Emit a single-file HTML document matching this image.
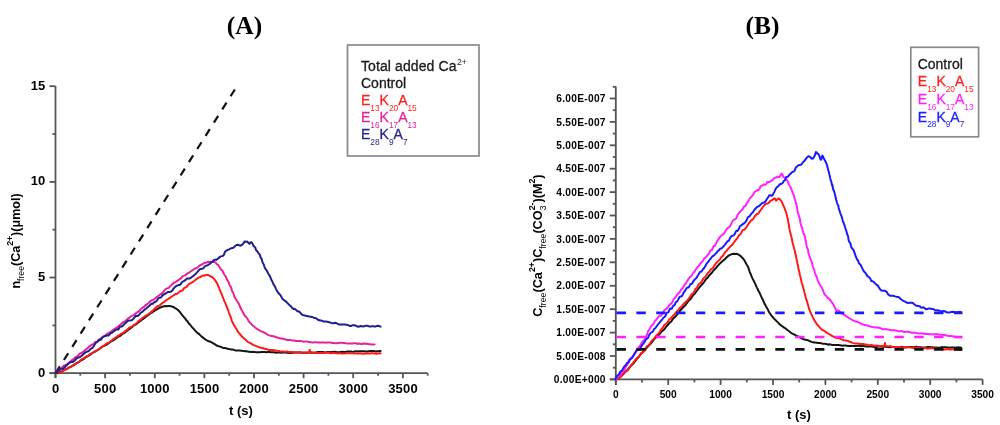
<!DOCTYPE html>
<html><head><meta charset="utf-8"><style>
html,body{margin:0;padding:0;background:#fff;width:1000px;height:425px;overflow:hidden}
svg{display:block;filter:blur(0.4px)}

</style></head><body>
<svg width="1000" height="425" viewBox="0 0 1000 425">
<rect width="1000" height="425" fill="#fff"/>
<text x="244.5" y="33.5" text-anchor="middle" font-family="Liberation Serif, serif" font-weight="bold" font-size="25.5">(A)</text>
<text x="762.5" y="33.5" text-anchor="middle" font-family="Liberation Serif, serif" font-weight="bold" font-size="25.5">(B)</text>
<g stroke="#555" stroke-width="1.8" fill="none">
<path d="M55.5,86 L55.5,378 M49.5,373.2 L427.5,373.2"/>
<path d="M49.5,373.2 L55.5,373.2"/>
<path d="M49.5,277.5 L55.5,277.5"/>
<path d="M49.5,181.9 L55.5,181.9"/>
<path d="M49.5,86.2 L55.5,86.2"/>
<path d="M52.5,325.4 L55.5,325.4"/>
<path d="M52.5,229.7 L55.5,229.7"/>
<path d="M52.5,134.0 L55.5,134.0"/>
<path d="M55.5,373.2 L55.5,378.2"/>
<path d="M80.3,373.2 L80.3,375.7"/>
<path d="M105.1,373.2 L105.1,378.2"/>
<path d="M129.9,373.2 L129.9,375.7"/>
<path d="M154.8,373.2 L154.8,378.2"/>
<path d="M179.6,373.2 L179.6,375.7"/>
<path d="M204.4,373.2 L204.4,378.2"/>
<path d="M229.2,373.2 L229.2,375.7"/>
<path d="M254.0,373.2 L254.0,378.2"/>
<path d="M278.8,373.2 L278.8,375.7"/>
<path d="M303.6,373.2 L303.6,378.2"/>
<path d="M328.4,373.2 L328.4,375.7"/>
<path d="M353.2,373.2 L353.2,378.2"/>
<path d="M378.1,373.2 L378.1,375.7"/>
<path d="M402.9,373.2 L402.9,378.2"/>
<path d="M427.7,373.2 L427.7,375.7"/>
</g>
<text x="45.5" y="376.7" text-anchor="end" font-family="Liberation Sans, sans-serif" font-weight="bold" font-size="13" letter-spacing="0.2">0</text>
<text x="45.5" y="281.0" text-anchor="end" font-family="Liberation Sans, sans-serif" font-weight="bold" font-size="13" letter-spacing="0.2">5</text>
<text x="45.5" y="185.4" text-anchor="end" font-family="Liberation Sans, sans-serif" font-weight="bold" font-size="13" letter-spacing="0.2">10</text>
<text x="45.5" y="89.7" text-anchor="end" font-family="Liberation Sans, sans-serif" font-weight="bold" font-size="13" letter-spacing="0.2">15</text>
<text x="55.6" y="392.6" text-anchor="middle" font-family="Liberation Sans, sans-serif" font-weight="bold" font-size="13" letter-spacing="0.2">0</text>
<text x="105.2" y="392.6" text-anchor="middle" font-family="Liberation Sans, sans-serif" font-weight="bold" font-size="13" letter-spacing="0.2">500</text>
<text x="154.8" y="392.6" text-anchor="middle" font-family="Liberation Sans, sans-serif" font-weight="bold" font-size="13" letter-spacing="0.2">1000</text>
<text x="204.5" y="392.6" text-anchor="middle" font-family="Liberation Sans, sans-serif" font-weight="bold" font-size="13" letter-spacing="0.2">1500</text>
<text x="254.1" y="392.6" text-anchor="middle" font-family="Liberation Sans, sans-serif" font-weight="bold" font-size="13" letter-spacing="0.2">2000</text>
<text x="303.7" y="392.6" text-anchor="middle" font-family="Liberation Sans, sans-serif" font-weight="bold" font-size="13" letter-spacing="0.2">2500</text>
<text x="353.4" y="392.6" text-anchor="middle" font-family="Liberation Sans, sans-serif" font-weight="bold" font-size="13" letter-spacing="0.2">3000</text>
<text x="403.0" y="392.6" text-anchor="middle" font-family="Liberation Sans, sans-serif" font-weight="bold" font-size="13" letter-spacing="0.2">3500</text>
<text x="241" y="414.7" text-anchor="middle" font-family="Liberation Sans, sans-serif" font-weight="bold" font-size="13">t (s)</text>
<text transform="translate(19.5,288.6) rotate(-90) scale(0.965,1.04)" font-family="Liberation Sans, sans-serif" font-weight="bold" font-size="13">n<tspan font-size="9" font-weight="normal" dy="4.2">free</tspan><tspan dy="-4.2">(Ca</tspan><tspan font-size="9" dy="-6.5">2+</tspan><tspan dy="6.5">)(μmol)</tspan></text>
<path d="M55.6,373.2 L235.2,88.9" stroke="#111" stroke-width="2.2" stroke-dasharray="8,7.6" fill="none"/>
<path d="M58.0,373.2 L58.6,372.8 L59.4,372.4 L60.3,371.8 L61.3,371.4 L62.4,371.1 L63.5,370.5 L64.8,369.8 L66.0,369.2 L67.3,368.6 L68.6,367.7 L69.9,367.1 L71.1,366.7 L72.3,366.0 L73.5,365.3 L74.6,364.6 L75.7,363.8 L76.8,363.1 L78.0,362.4 L79.1,362.1 L80.3,361.1 L81.4,360.1 L82.6,359.7 L83.7,359.1 L84.8,358.1 L85.8,357.3 L86.8,356.6 L87.8,356.1 L88.7,355.6 L89.5,355.1 L90.9,354.1 L91.8,353.5 L92.5,353.1 L93.1,352.6 L94.0,352.1 L95.2,351.5 L97.0,350.5 L97.7,349.9 L98.5,349.5 L99.4,349.0 L100.3,348.5 L101.3,347.6 L102.3,346.7 L103.4,346.2 L104.5,345.7 L105.6,345.1 L106.8,344.5 L108.0,343.7 L109.1,343.0 L110.3,342.0 L111.5,341.1 L112.7,340.6 L113.8,340.0 L114.9,339.3 L116.0,338.4 L117.1,337.6 L118.1,336.8 L119.1,336.4 L120.0,336.0 L121.2,334.9 L122.4,334.0 L123.5,333.4 L124.7,332.7 L125.8,331.8 L126.9,330.9 L127.9,330.2 L128.9,329.5 L129.9,328.7 L130.9,328.0 L131.8,327.3 L132.7,326.5 L133.6,325.8 L134.4,325.1 L135.2,324.8 L136.0,324.4 L137.4,323.2 L138.6,322.2 L139.7,321.4 L140.6,320.7 L141.5,320.1 L142.3,319.5 L143.2,319.0 L144.0,318.3 L145.1,317.4 L146.2,316.5 L147.2,315.7 L148.1,315.1 L149.1,314.4 L150.0,313.6 L151.1,312.8 L152.1,312.5 L153.1,311.8 L154.1,311.1 L155.0,310.5 L156.4,309.7 L157.7,308.9 L159.0,308.2 L160.3,307.6 L161.6,307.0 L163.0,306.5 L164.2,306.2 L165.5,306.0 L166.8,306.2 L168.0,306.1 L169.4,306.1 L170.7,306.2 L172.0,306.5 L173.3,307.0 L174.6,307.7 L176.0,308.7 L176.9,309.2 L177.9,309.9 L179.0,311.0 L180.0,312.2 L181.0,313.5 L181.8,314.6 L182.5,315.5 L183.3,316.4 L184.1,317.4 L185.0,318.3 L186.0,319.7 L186.6,320.6 L187.3,321.1 L188.0,322.1 L188.8,323.4 L189.6,324.2 L190.4,325.0 L191.2,326.0 L192.0,327.1 L192.8,328.0 L193.7,328.9 L194.5,329.8 L195.4,330.9 L196.4,332.0 L197.4,332.8 L198.4,333.6 L199.4,334.4 L200.4,335.4 L201.4,336.4 L202.3,337.1 L203.2,337.7 L204.1,338.4 L205.4,339.5 L206.5,340.2 L207.6,340.8 L208.7,341.2 L209.8,341.5 L211.0,342.1 L212.1,342.7 L213.2,343.3 L214.2,343.9 L215.4,344.7 L216.6,345.5 L217.9,346.0 L219.4,346.4 L220.4,346.7 L221.5,347.2 L222.6,347.7 L223.8,347.9 L225.0,348.0 L226.2,348.3 L227.5,348.7 L228.7,349.0 L230.0,349.2 L231.3,349.4 L232.6,349.5 L233.8,349.9 L235.0,350.3 L236.1,350.6 L237.3,350.6 L238.5,350.6 L239.7,350.6 L241.0,350.7 L242.2,350.8 L243.5,351.1 L244.9,351.3 L246.2,351.1 L247.6,351.6 L248.7,351.7 L249.8,351.8 L250.8,351.9 L251.9,351.9 L252.9,351.8 L254.0,351.9 L255.1,352.1 L256.2,352.2 L257.4,352.2 L258.7,352.2 L260.0,352.2 L261.5,352.1 L263.0,352.1 L264.7,352.1 L266.5,352.2 L267.4,352.1 L268.4,352.1 L269.4,352.1 L270.5,352.2 L271.6,352.3 L272.7,352.3 L273.9,352.3 L275.1,352.5 L276.3,352.7 L277.6,352.4 L278.8,352.4 L280.1,352.6 L281.4,352.8 L282.7,352.5 L284.1,352.5 L285.4,352.6 L286.7,352.7 L288.0,352.8 L289.4,352.9 L290.7,352.9 L292.0,352.8 L293.3,352.7 L294.6,352.6 L295.9,352.5 L297.1,352.5 L298.4,352.4 L299.6,352.3 L300.8,352.6 L301.9,352.9 L303.0,352.8 L304.1,352.8 L305.5,352.8 L306.9,352.8 L308.2,352.5 L309.6,352.6 L310.9,352.7 L312.1,352.8 L313.4,352.8 L314.6,352.8 L315.8,352.5 L317.0,352.2 L318.2,352.1 L319.4,352.1 L320.6,352.0 L321.7,352.0 L322.9,352.1 L324.1,352.2 L325.2,352.4 L326.4,352.2 L327.5,352.0 L328.7,352.1 L329.9,352.2 L331.1,352.1 L332.3,352.0 L333.5,351.8 L334.8,351.8 L336.0,352.0 L337.2,352.2 L338.5,352.2 L339.7,352.1 L341.0,351.9 L342.3,351.7 L343.5,352.0 L344.8,351.9 L346.0,351.8 L347.3,351.6 L348.5,351.5 L349.7,351.4 L350.9,351.4 L352.1,351.7 L353.3,351.9 L354.5,351.5 L355.6,351.3 L356.7,351.3 L357.9,351.4 L358.9,351.3 L360.0,351.3 L361.4,351.2 L362.9,351.3 L364.3,351.3 L365.8,351.5 L367.2,351.6 L368.6,351.3 L370.0,351.1 L371.3,351.0 L372.6,351.0 L373.9,351.0 L375.1,351.4 L376.2,351.5 L377.2,351.3 L378.2,351.2 L379.1,351.1 L379.8,351.0 L380.5,351.1" fill="none" stroke="#151515" stroke-width="2.0" stroke-linejoin="round" stroke-linecap="round"/>
<path d="M59.0,373.2 L59.6,373.0 L60.4,372.7 L61.3,372.4 L62.3,371.7 L63.3,370.2 L64.5,369.9 L65.7,369.7 L67.0,369.0 L68.2,368.1 L69.5,367.4 L70.8,366.6 L72.0,365.8 L73.2,365.0 L74.2,364.4 L75.3,363.8 L76.4,363.3 L77.6,362.8 L78.7,362.2 L79.9,361.1 L81.0,359.9 L82.2,358.9 L83.3,358.5 L84.4,358.0 L85.5,357.2 L86.5,356.5 L87.5,356.0 L88.4,355.5 L89.2,354.9 L90.6,353.8 L91.5,353.3 L92.2,352.9 L92.9,352.5 L93.7,352.0 L95.0,351.3 L96.8,350.3 L97.5,350.0 L98.3,349.6 L99.1,349.0 L99.9,348.4 L100.9,347.7 L101.8,347.0 L102.8,346.4 L103.8,345.7 L104.9,344.9 L106.0,343.9 L107.1,343.2 L108.2,343.1 L109.3,342.3 L110.4,341.4 L111.6,340.5 L112.7,339.6 L113.8,338.8 L114.9,338.1 L116.0,337.3 L117.0,336.6 L118.0,335.9 L119.0,335.2 L120.0,334.5 L121.1,333.7 L122.1,333.3 L123.2,332.9 L124.2,332.0 L125.2,331.1 L126.3,330.3 L127.3,329.7 L128.3,328.8 L129.2,327.7 L130.2,327.2 L131.2,326.9 L132.2,326.3 L133.2,325.7 L134.1,324.9 L135.1,324.2 L136.1,323.5 L137.1,322.7 L138.0,321.6 L139.0,320.8 L140.0,320.1 L141.0,319.4 L142.0,318.4 L142.9,317.6 L143.9,317.0 L144.8,316.3 L145.8,315.7 L146.7,315.1 L147.7,314.5 L148.6,313.9 L149.6,313.2 L150.5,312.5 L151.5,311.6 L152.4,310.8 L153.4,309.9 L154.4,308.9 L155.4,307.9 L156.4,307.1 L157.4,306.3 L158.4,306.0 L159.5,305.7 L160.5,304.7 L161.5,303.7 L162.5,302.9 L163.6,302.3 L164.7,301.6 L165.8,300.5 L166.9,299.7 L168.0,299.1 L169.1,298.4 L170.3,297.6 L171.4,296.8 L172.5,296.0 L173.6,295.3 L174.7,294.6 L175.8,293.9 L176.8,294.0 L177.8,293.3 L178.8,292.3 L179.8,291.4 L180.7,291.0 L181.6,290.8 L182.4,290.6 L183.7,288.6 L185.0,287.7 L186.2,287.2 L187.3,286.0 L188.4,284.7 L189.4,283.8 L190.4,283.2 L191.3,282.8 L192.1,282.4 L192.9,281.8 L193.7,281.3 L194.4,280.8 L195.0,280.3 L196.8,278.9 L197.7,278.2 L198.5,277.6 L199.7,277.2 L200.9,276.8 L202.1,275.9 L203.3,275.4 L204.5,275.7 L205.6,275.1 L207.0,274.9 L208.4,275.1 L209.8,276.0 L211.2,276.6 L212.3,277.2 L213.3,278.1 L214.4,279.3 L215.5,280.8 L216.2,281.9 L216.9,283.0 L217.6,284.4 L218.2,285.9 L218.9,287.5 L219.5,289.2 L219.9,290.2 L220.2,291.0 L220.7,292.0 L221.5,293.8 L221.8,294.6 L222.2,295.6 L222.6,296.7 L223.1,297.9 L223.6,299.2 L224.1,300.4 L224.6,301.6 L225.1,302.7 L225.6,303.8 L226.2,305.3 L226.7,306.7 L227.1,307.8 L227.6,308.7 L228.0,309.8 L228.5,311.3 L229.0,312.8 L229.5,314.1 L230.0,315.3 L230.4,316.5 L230.9,317.7 L231.3,318.9 L231.7,320.3 L232.2,321.5 L232.6,322.5 L233.3,323.7 L233.9,325.0 L234.6,326.1 L235.2,327.1 L235.8,328.0 L236.4,329.0 L237.0,330.0 L237.8,331.4 L238.4,332.2 L239.0,333.1 L240.1,334.2 L240.8,335.1 L241.6,336.1 L242.4,337.1 L243.3,337.8 L244.3,338.5 L245.4,339.5 L246.5,340.6 L247.6,341.7 L248.6,342.4 L249.6,342.7 L250.6,343.2 L251.7,344.0 L252.8,344.6 L253.9,345.1 L255.1,345.6 L256.3,346.1 L257.6,346.6 L258.9,347.2 L260.0,347.6 L261.1,347.8 L262.3,348.0 L263.4,348.3 L264.6,348.7 L265.9,349.0 L267.1,349.3 L268.4,349.7 L269.7,350.0 L271.1,349.9 L272.5,350.0 L274.0,350.2 L275.1,350.4 L276.2,350.6 L277.4,350.9 L278.6,351.1 L279.9,351.3 L281.2,351.4 L282.5,351.4 L283.8,351.6 L285.1,351.7 L286.4,351.6 L287.7,351.6 L289.0,351.9 L290.2,352.0 L291.4,352.0 L292.6,352.0 L293.7,352.2 L294.7,352.4 L296.2,352.5 L297.8,352.6 L299.2,352.5 L300.7,352.3 L302.0,352.5 L303.3,352.6 L304.5,352.6 L305.7,352.6 L306.7,352.8 L307.5,352.8 L308.3,352.8 L309.8,351.1 L309.8,349.8 L309.3,350.9 L311.3,352.4 L312.0,352.4 L312.8,352.5 L313.8,352.6 L314.8,352.9 L315.8,353.1 L317.0,353.1 L318.2,353.0 L319.5,352.9 L320.8,352.9 L322.2,353.0 L323.6,353.0 L325.0,352.9 L326.5,352.8 L327.9,352.7 L329.4,352.9 L330.9,353.2 L332.3,353.0 L333.4,352.8 L334.5,352.9 L335.6,353.2 L336.8,353.3 L338.0,353.4 L339.2,353.3 L340.5,353.3 L341.7,353.4 L343.0,353.5 L344.3,353.4 L345.5,353.2 L346.8,353.2 L348.1,353.2 L349.4,353.3 L350.6,353.3 L351.9,353.2 L353.1,353.1 L354.3,353.3 L355.5,353.4 L356.7,353.4 L357.8,353.5 L358.9,353.5 L360.0,353.5 L361.4,353.6 L362.9,353.7 L364.3,353.7 L365.8,353.6 L367.2,353.6 L368.6,353.6 L370.0,353.5 L371.3,353.3 L372.6,353.3 L373.9,353.4 L375.1,353.5 L376.2,353.7 L377.2,353.8 L378.2,353.6 L379.1,353.3 L379.8,353.2 L380.5,353.5" fill="none" stroke="#ff1a1a" stroke-width="2.0" stroke-linejoin="round" stroke-linecap="round"/>
<path d="M55.5,373.0 L56.0,372.5 L56.6,371.9 L57.2,371.3 L58.0,370.7 L58.7,370.2 L59.6,369.6 L60.4,369.1 L61.4,368.4 L62.3,367.3 L63.3,366.1 L64.4,365.5 L65.4,365.1 L66.5,364.9 L67.6,364.2 L68.7,363.1 L69.8,362.0 L71.0,361.0 L72.1,360.1 L73.2,359.2 L74.3,358.2 L75.4,357.4 L76.5,356.7 L77.6,355.9 L78.6,355.1 L79.6,353.7 L80.6,353.3 L81.6,353.0 L82.4,352.3 L83.3,351.6 L84.1,350.9 L84.8,350.3 L86.2,349.2 L87.5,348.2 L88.6,347.1 L89.5,346.3 L90.4,345.7 L91.2,345.1 L91.9,344.6 L92.7,344.4 L93.4,344.2 L94.3,343.1 L95.2,341.9 L96.2,341.8 L97.4,341.4 L98.8,340.0 L99.6,339.4 L100.4,338.7 L101.3,337.9 L102.2,337.2 L103.2,336.5 L104.2,335.9 L105.2,335.3 L106.2,334.6 L107.3,333.9 L108.4,333.2 L109.5,332.5 L110.7,331.8 L111.8,330.9 L112.9,330.0 L114.1,329.3 L115.2,328.6 L116.3,327.9 L117.4,327.1 L118.5,326.2 L119.5,325.3 L120.5,324.7 L121.5,323.8 L122.4,322.5 L123.3,322.2 L124.2,321.8 L125.0,321.5 L125.7,320.8 L126.4,320.0 L128.3,318.2 L129.5,317.6 L130.3,316.9 L130.9,316.5 L131.4,316.0 L132.2,315.8 L133.3,315.4 L135.0,313.9 L135.7,313.4 L136.5,312.9 L137.3,312.3 L138.2,311.7 L139.2,310.9 L140.2,309.9 L141.2,308.9 L142.3,307.8 L143.4,307.1 L144.6,306.3 L145.7,305.0 L146.9,304.5 L148.0,303.6 L149.2,302.3 L150.3,301.2 L151.4,300.6 L152.5,299.9 L153.6,299.6 L154.6,299.2 L155.6,298.1 L156.5,297.1 L157.4,296.6 L158.1,296.0 L158.9,295.5 L159.5,295.0 L161.8,293.4 L163.0,292.3 L163.6,291.5 L164.1,290.8 L164.8,289.9 L165.8,288.9 L166.7,288.4 L167.6,288.3 L168.7,287.9 L170.0,286.3 L170.8,285.7 L171.6,284.9 L172.5,284.0 L173.4,283.0 L174.4,282.5 L175.4,282.2 L176.5,281.4 L177.6,280.6 L178.8,279.8 L180.0,278.9 L180.9,278.3 L182.0,277.0 L183.1,275.9 L184.2,275.6 L185.4,275.2 L186.6,274.1 L187.9,273.1 L189.1,272.7 L190.2,271.8 L191.4,270.9 L192.4,270.3 L193.4,269.6 L194.2,269.0 L195.0,268.5 L196.8,268.0 L197.8,267.2 L198.4,266.6 L199.2,265.9 L200.3,265.0 L201.3,264.6 L202.4,264.5 L203.5,263.4 L204.9,262.7 L206.4,262.7 L207.7,262.0 L209.5,261.8 L211.2,261.9 L212.7,262.1 L214.1,262.1 L215.2,262.2 L216.2,263.3 L217.1,264.5 L218.0,264.7 L219.0,266.2 L219.7,267.4 L220.4,268.6 L221.1,269.7 L221.8,270.1 L222.5,270.9 L223.2,272.3 L223.9,273.8 L224.4,274.8 L225.0,275.7 L225.6,276.2 L226.1,277.4 L226.8,279.4 L227.6,280.4 L228.2,281.6 L228.7,282.5 L229.6,285.3 L229.9,285.7 L230.3,286.1 L230.7,286.7 L231.2,287.9 L231.7,289.6 L232.2,291.3 L232.8,292.4 L233.3,293.4 L233.9,294.7 L234.4,296.5 L235.0,297.6 L235.5,298.5 L236.1,299.5 L236.7,300.6 L237.3,301.5 L237.9,302.3 L238.5,303.2 L239.1,304.5 L239.7,305.9 L240.3,307.3 L240.9,308.5 L241.4,309.6 L242.0,310.6 L242.7,311.9 L243.4,313.2 L244.0,314.3 L244.6,315.5 L245.2,316.2 L245.9,316.7 L246.5,317.4 L247.2,318.6 L248.0,319.9 L248.8,321.4 L249.7,322.4 L250.6,323.2 L251.5,324.1 L252.4,325.2 L253.4,326.0 L254.3,326.8 L255.3,327.5 L256.2,328.3 L257.4,329.2 L258.7,329.9 L260.0,330.6 L261.2,331.3 L262.4,331.8 L263.5,332.2 L264.5,332.6 L266.0,333.6 L267.0,334.3 L268.5,335.1 L269.5,335.4 L270.6,335.7 L271.8,336.1 L273.1,336.3 L274.4,336.5 L275.8,337.0 L277.0,337.5 L278.2,337.8 L279.4,338.2 L280.6,338.6 L281.8,338.5 L283.0,338.7 L284.2,339.0 L285.4,339.4 L286.6,339.9 L287.7,340.0 L288.8,339.9 L290.0,339.9 L291.2,340.2 L292.5,340.4 L293.9,340.6 L295.0,340.8 L296.2,341.0 L297.4,341.0 L298.7,341.0 L300.0,341.0 L301.3,341.1 L302.7,341.5 L304.0,341.7 L305.3,341.4 L306.6,341.6 L307.8,341.8 L309.0,342.0 L310.2,342.2 L311.3,342.3 L312.5,342.4 L313.6,342.4 L314.9,342.3 L316.2,342.3 L317.7,342.4 L319.3,342.5 L320.3,342.5 L321.3,342.5 L322.3,342.5 L323.3,342.6 L324.4,342.6 L325.5,342.7 L326.6,342.6 L327.7,342.5 L328.9,342.5 L330.1,342.6 L331.3,342.7 L332.6,342.9 L334.0,343.1 L335.4,343.2 L336.9,343.2 L338.4,343.0 L340.0,342.8 L341.0,342.8 L342.1,342.8 L343.3,342.9 L344.5,343.1 L345.8,343.3 L347.1,343.4 L348.5,343.5 L349.9,343.6 L351.3,343.6 L352.7,343.4 L354.2,343.3 L355.7,343.3 L357.1,343.8 L358.6,343.6 L360.0,343.8 L361.5,344.0 L362.9,343.8 L364.2,343.6 L365.6,343.7 L366.8,343.8 L368.1,344.0 L369.2,344.2 L370.3,344.3 L371.4,344.5 L372.3,344.6 L373.2,344.6 L373.9,344.6 L374.6,344.4" fill="none" stroke="#e3239a" stroke-width="2.0" stroke-linejoin="round" stroke-linecap="round"/>
<path d="M55.5,373.0 L56.0,372.4 L56.7,371.7 L57.4,371.2 L58.1,370.9 L59.0,370.2 L59.9,369.2 L60.8,368.8 L61.8,368.8 L62.8,368.9 L63.9,368.0 L65.0,366.9 L66.2,365.8 L67.4,364.3 L68.6,363.4 L69.8,362.6 L71.0,362.1 L72.2,362.0 L73.5,361.5 L74.7,360.5 L75.9,359.1 L77.1,358.0 L78.3,357.6 L79.5,357.2 L80.6,356.6 L81.7,355.7 L82.8,354.6 L83.8,353.7 L84.8,352.9 L85.7,352.2 L86.6,351.8 L87.4,351.5 L88.1,351.3 L88.8,350.9 L90.6,348.8 L91.9,348.2 L92.8,347.5 L93.3,346.7 L93.8,346.1 L94.1,345.5 L94.6,344.7 L95.2,343.7 L96.1,342.7 L97.4,341.8 L98.1,341.0 L99.0,340.0 L99.9,339.7 L100.8,339.9 L101.8,338.5 L102.9,337.1 L104.0,336.6 L105.1,336.1 L106.2,335.7 L107.4,335.4 L108.6,335.5 L109.8,334.1 L110.9,333.1 L112.1,332.7 L113.2,331.8 L114.3,330.9 L115.4,330.1 L116.4,329.5 L117.4,329.3 L118.4,329.5 L119.2,328.1 L120.0,326.7 L121.6,326.6 L123.0,325.7 L124.2,324.1 L125.3,323.2 L126.3,322.3 L127.2,321.5 L128.1,320.7 L128.9,320.5 L129.6,320.5 L130.4,320.5 L131.5,320.2 L131.8,320.1 L132.6,319.7 L135.0,316.9 L135.6,315.8 L136.3,315.8 L137.1,315.9 L137.9,315.9 L138.8,315.1 L139.8,313.9 L140.8,312.7 L141.8,312.1 L142.9,311.4 L143.9,310.3 L145.1,309.2 L146.2,308.5 L147.3,307.6 L148.5,306.6 L149.6,305.7 L150.7,304.4 L151.9,303.6 L152.9,303.7 L154.0,302.6 L155.0,301.7 L156.0,301.7 L157.0,300.6 L157.9,298.9 L158.7,298.1 L159.5,297.7 L161.0,297.5 L162.3,295.6 L163.6,294.6 L164.7,294.0 L165.8,293.4 L166.8,292.7 L167.7,291.9 L168.6,292.0 L169.5,292.1 L170.3,291.9 L171.2,291.5 L172.0,290.9 L173.2,289.1 L174.2,287.8 L175.0,287.0 L175.8,286.4 L176.7,285.9 L177.6,285.4 L178.7,285.0 L180.0,284.9 L180.8,284.0 L181.7,282.4 L182.7,281.7 L183.8,281.2 L184.9,280.4 L186.0,279.6 L187.1,278.6 L188.3,278.4 L189.4,278.5 L190.5,278.0 L191.5,277.3 L192.5,276.5 L193.5,275.7 L194.3,275.1 L195.0,274.5 L196.6,272.9 L197.7,271.5 L198.5,270.7 L199.1,270.0 L199.9,269.2 L201.0,269.0 L202.1,268.8 L203.2,268.3 L204.2,267.1 L205.4,265.9 L206.5,265.6 L207.7,265.2 L208.7,264.5 L209.8,263.8 L210.8,262.9 L211.9,262.0 L213.0,261.0 L214.1,260.0 L215.2,259.6 L216.2,259.9 L217.4,259.0 L218.6,258.2 L219.7,257.0 L220.9,256.4 L222.2,256.1 L223.2,255.6 L224.1,254.4 L225.0,251.7 L225.9,250.9 L226.8,250.5 L227.8,249.8 L229.2,249.4 L230.6,248.5 L231.8,248.1 L233.0,248.1 L234.2,246.9 L235.4,245.8 L236.5,245.0 L237.7,244.7 L239.1,245.2 L240.5,245.7 L241.8,245.0 L242.9,244.0 L243.8,242.8 L244.5,241.5 L245.1,241.5 L245.7,241.8 L246.3,241.7 L247.1,241.5 L248.3,242.7 L249.5,243.9 L250.1,243.0 L250.6,242.2 L251.2,242.3 L251.8,242.5 L252.7,244.1 L253.7,246.2 L254.5,246.7 L255.3,247.6 L256.1,250.3 L257.1,251.1 L258.0,252.3 L258.7,253.6 L259.6,254.3 L260.0,255.0 L260.4,257.0 L260.9,258.0 L261.4,258.3 L261.9,259.7 L262.4,261.9 L262.9,263.0 L263.3,263.7 L263.8,264.5 L264.3,266.2 L264.8,267.7 L265.4,268.9 L266.0,269.6 L266.5,270.2 L267.1,271.3 L267.7,272.5 L268.3,273.6 L268.9,274.6 L269.5,275.5 L270.2,276.8 L270.8,278.3 L271.5,280.0 L272.1,281.1 L272.7,282.4 L273.3,283.9 L273.9,285.0 L274.6,285.8 L275.2,287.2 L275.8,288.6 L276.4,289.8 L277.0,290.8 L277.5,291.6 L278.0,292.3 L279.3,294.1 L280.3,295.0 L281.2,296.4 L282.1,298.3 L283.0,299.3 L284.0,300.2 L285.0,300.8 L286.1,301.6 L287.2,302.7 L288.2,303.9 L289.1,304.8 L290.0,305.6 L290.9,306.3 L291.8,307.5 L293.2,308.9 L294.6,308.8 L296.0,309.9 L297.0,310.9 L298.1,311.5 L299.1,311.4 L300.2,312.7 L301.4,314.2 L302.6,315.0 L303.9,315.3 L305.2,315.5 L306.6,316.1 L308.0,316.3 L309.4,316.5 L310.8,316.7 L312.0,316.9 L313.2,317.4 L314.4,318.1 L315.5,318.0 L316.5,318.6 L318.0,319.7 L320.0,320.5 L320.9,320.6 L322.0,320.8 L323.2,321.4 L324.5,321.6 L325.8,321.5 L327.2,321.8 L328.6,322.1 L330.0,322.5 L331.2,322.9 L332.5,323.3 L333.7,323.2 L335.0,322.8 L336.3,323.0 L337.6,323.8 L339.0,324.4 L340.4,324.5 L341.8,324.6 L343.0,324.5 L344.1,324.5 L345.2,324.4 L346.3,324.7 L347.5,324.9 L348.7,325.4 L349.9,326.0 L351.2,325.9 L352.7,325.2 L354.2,325.3 L355.9,325.7 L356.9,326.2 L358.0,326.8 L359.3,326.6 L360.5,326.0 L361.9,326.3 L363.3,326.6 L364.7,325.9 L366.2,325.7 L367.6,325.8 L369.1,326.4 L370.5,326.6 L371.9,326.3 L373.3,326.2 L374.6,326.6 L375.8,326.4 L377.0,326.0 L378.0,325.7 L379.0,326.0 L379.8,326.5 L380.5,326.6" fill="none" stroke="#1f1f8f" stroke-width="2.0" stroke-linejoin="round" stroke-linecap="round"/>
<rect x="347.5" y="45" width="131.5" height="111" fill="none" stroke="#8a8a8a" stroke-width="1.7"/>
<text x="361" y="71" font-family="Liberation Sans, sans-serif" font-size="14" fill="#1a1a1a" stroke="#1a1a1a" stroke-width="0.3"><tspan letter-spacing="0.1">Total added Ca</tspan><tspan font-size="8.6" stroke-width="0" dy="-6.3" dx="0.3">2+</tspan></text>
<text x="361" y="88" font-family="Liberation Sans, sans-serif" font-size="14" fill="#1a1a1a" stroke="#1a1a1a" stroke-width="0.3">Control</text>
<text x="361" y="105" font-family="Liberation Sans, sans-serif" font-size="14" fill="#ff2020" stroke="#ff2020" stroke-width="0.3">E<tspan font-size="8.3" stroke-width="0" dy="5.5">13</tspan><tspan dy="-5.5">K</tspan><tspan font-size="8.3" stroke-width="0" dy="5.5">20</tspan><tspan dy="-5.5">A</tspan><tspan font-size="8.3" stroke-width="0" dy="5.5">15</tspan></text>
<text x="361" y="122" font-family="Liberation Sans, sans-serif" font-size="14" fill="#e3239a" stroke="#e3239a" stroke-width="0.3">E<tspan font-size="8.3" stroke-width="0" dy="5.5">16</tspan><tspan dy="-5.5">K</tspan><tspan font-size="8.3" stroke-width="0" dy="5.5">17</tspan><tspan dy="-5.5">A</tspan><tspan font-size="8.3" stroke-width="0" dy="5.5">13</tspan></text>
<text x="361" y="139" font-family="Liberation Sans, sans-serif" font-size="14" fill="#25258f" stroke="#25258f" stroke-width="0.3">E<tspan font-size="8.3" stroke-width="0" dy="5.5">28</tspan><tspan dy="-5.5">K</tspan><tspan font-size="8.3" stroke-width="0" dy="5.5">9</tspan><tspan dy="-5.5">A</tspan><tspan font-size="8.3" stroke-width="0" dy="5.5">7</tspan></text>
<g stroke="#555" stroke-width="1.8" fill="none">
<path d="M615.8,86.5 L615.8,385 M609.8,379.4 L982.6,379.4"/>
<path d="M609.8,379.4 L615.8,379.4"/>
<path d="M609.8,356.0 L615.8,356.0"/>
<path d="M609.8,332.6 L615.8,332.6"/>
<path d="M609.8,309.2 L615.8,309.2"/>
<path d="M609.8,285.8 L615.8,285.8"/>
<path d="M609.8,262.3 L615.8,262.3"/>
<path d="M609.8,238.9 L615.8,238.9"/>
<path d="M609.8,215.5 L615.8,215.5"/>
<path d="M609.8,192.1 L615.8,192.1"/>
<path d="M609.8,168.7 L615.8,168.7"/>
<path d="M609.8,145.3 L615.8,145.3"/>
<path d="M609.8,121.9 L615.8,121.9"/>
<path d="M609.8,98.5 L615.8,98.5"/>
<path d="M612.8,367.7 L615.8,367.7"/>
<path d="M612.8,344.3 L615.8,344.3"/>
<path d="M612.8,320.9 L615.8,320.9"/>
<path d="M612.8,297.5 L615.8,297.5"/>
<path d="M612.8,274.1 L615.8,274.1"/>
<path d="M612.8,250.6 L615.8,250.6"/>
<path d="M612.8,227.2 L615.8,227.2"/>
<path d="M612.8,203.8 L615.8,203.8"/>
<path d="M612.8,180.4 L615.8,180.4"/>
<path d="M612.8,157.0 L615.8,157.0"/>
<path d="M612.8,133.6 L615.8,133.6"/>
<path d="M612.8,110.2 L615.8,110.2"/>
<path d="M612.8,86.8 L615.8,86.8"/>
<path d="M615.8,379.4 L615.8,384.9"/>
<path d="M642.0,379.4 L642.0,382.4"/>
<path d="M668.2,379.4 L668.2,384.9"/>
<path d="M694.4,379.4 L694.4,382.4"/>
<path d="M720.6,379.4 L720.6,384.9"/>
<path d="M746.8,379.4 L746.8,382.4"/>
<path d="M773.0,379.4 L773.0,384.9"/>
<path d="M799.2,379.4 L799.2,382.4"/>
<path d="M825.4,379.4 L825.4,384.9"/>
<path d="M851.6,379.4 L851.6,382.4"/>
<path d="M877.8,379.4 L877.8,384.9"/>
<path d="M904.0,379.4 L904.0,382.4"/>
<path d="M930.2,379.4 L930.2,384.9"/>
<path d="M956.4,379.4 L956.4,382.4"/>
<path d="M982.6,379.4 L982.6,384.9"/>
</g>
<text x="605.8" y="383.0" text-anchor="end" font-family="Liberation Sans, sans-serif" font-weight="bold" font-size="10.2" letter-spacing="0.28">0.00E+000</text>
<text x="605.8" y="359.6" text-anchor="end" font-family="Liberation Sans, sans-serif" font-weight="bold" font-size="10.2" letter-spacing="0.28">5.00E-008</text>
<text x="605.8" y="336.2" text-anchor="end" font-family="Liberation Sans, sans-serif" font-weight="bold" font-size="10.2" letter-spacing="0.28">1.00E-007</text>
<text x="605.8" y="312.8" text-anchor="end" font-family="Liberation Sans, sans-serif" font-weight="bold" font-size="10.2" letter-spacing="0.28">1.50E-007</text>
<text x="605.8" y="289.4" text-anchor="end" font-family="Liberation Sans, sans-serif" font-weight="bold" font-size="10.2" letter-spacing="0.28">2.00E-007</text>
<text x="605.8" y="265.9" text-anchor="end" font-family="Liberation Sans, sans-serif" font-weight="bold" font-size="10.2" letter-spacing="0.28">2.50E-007</text>
<text x="605.8" y="242.5" text-anchor="end" font-family="Liberation Sans, sans-serif" font-weight="bold" font-size="10.2" letter-spacing="0.28">3.00E-007</text>
<text x="605.8" y="219.1" text-anchor="end" font-family="Liberation Sans, sans-serif" font-weight="bold" font-size="10.2" letter-spacing="0.28">3.50E-007</text>
<text x="605.8" y="195.7" text-anchor="end" font-family="Liberation Sans, sans-serif" font-weight="bold" font-size="10.2" letter-spacing="0.28">4.00E-007</text>
<text x="605.8" y="172.3" text-anchor="end" font-family="Liberation Sans, sans-serif" font-weight="bold" font-size="10.2" letter-spacing="0.28">4.50E-007</text>
<text x="605.8" y="148.9" text-anchor="end" font-family="Liberation Sans, sans-serif" font-weight="bold" font-size="10.2" letter-spacing="0.28">5.00E-007</text>
<text x="605.8" y="125.5" text-anchor="end" font-family="Liberation Sans, sans-serif" font-weight="bold" font-size="10.2" letter-spacing="0.28">5.50E-007</text>
<text x="605.8" y="102.1" text-anchor="end" font-family="Liberation Sans, sans-serif" font-weight="bold" font-size="10.2" letter-spacing="0.28">6.00E-007</text>
<text x="615.8" y="397.7" text-anchor="middle" font-family="Liberation Sans, sans-serif" font-weight="bold" font-size="10.2">0</text>
<text x="668.2" y="397.7" text-anchor="middle" font-family="Liberation Sans, sans-serif" font-weight="bold" font-size="10.2">500</text>
<text x="720.6" y="397.7" text-anchor="middle" font-family="Liberation Sans, sans-serif" font-weight="bold" font-size="10.2">1000</text>
<text x="773.0" y="397.7" text-anchor="middle" font-family="Liberation Sans, sans-serif" font-weight="bold" font-size="10.2">1500</text>
<text x="825.4" y="397.7" text-anchor="middle" font-family="Liberation Sans, sans-serif" font-weight="bold" font-size="10.2">2000</text>
<text x="877.8" y="397.7" text-anchor="middle" font-family="Liberation Sans, sans-serif" font-weight="bold" font-size="10.2">2500</text>
<text x="930.2" y="397.7" text-anchor="middle" font-family="Liberation Sans, sans-serif" font-weight="bold" font-size="10.2">3000</text>
<text x="982.6" y="397.7" text-anchor="middle" font-family="Liberation Sans, sans-serif" font-weight="bold" font-size="10.2">3500</text>
<text x="799" y="419" text-anchor="middle" font-family="Liberation Sans, sans-serif" font-weight="bold" font-size="13">t (s)</text>
<text transform="translate(541.8,316.8) rotate(-90) scale(0.975,1.02)" font-family="Liberation Sans, sans-serif" font-weight="bold" font-size="13">C<tspan font-size="9" font-weight="normal" dy="4.2">free</tspan><tspan dy="-4.2">(Ca</tspan><tspan font-size="9" dy="-6.5">2+</tspan><tspan dy="6.5">)C</tspan><tspan font-size="9" font-weight="normal" dy="4.2">free</tspan><tspan dy="-4.2">(CO</tspan><tspan font-size="9" font-weight="normal" dy="4.2">3</tspan><tspan font-size="9" dy="-10.7" dx="-5">2-</tspan><tspan dy="6.5">)(M</tspan><tspan font-size="9" dy="-6.5">2</tspan><tspan dy="6.5">)</tspan></text>
<path d="M617.8,379.0 L618.3,378.5 L619.0,377.9 L619.8,377.2 L620.7,376.6 L621.6,375.9 L622.6,374.8 L623.7,373.7 L624.7,372.6 L625.7,371.6 L626.6,370.8 L627.5,370.1 L628.4,369.0 L629.1,367.9 L629.9,367.1 L630.5,366.2 L631.3,365.5 L632.0,364.9 L632.8,364.0 L633.7,363.0 L634.8,361.7 L636.0,360.1 L636.6,359.2 L637.3,358.3 L638.0,357.7 L638.7,356.8 L639.5,355.8 L640.2,354.8 L641.0,353.8 L641.9,353.0 L642.7,352.2 L643.6,351.3 L644.4,350.3 L645.3,349.3 L646.2,348.3 L647.1,347.3 L647.9,346.3 L648.8,345.5 L649.6,344.7 L650.5,343.9 L651.3,342.9 L652.1,342.0 L652.9,340.9 L653.6,339.9 L654.5,338.8 L655.4,338.0 L656.2,337.4 L657.0,336.6 L657.8,335.8 L658.6,335.0 L659.3,334.3 L660.1,333.6 L660.8,332.4 L661.6,331.3 L662.4,330.8 L663.2,330.3 L664.0,329.5 L664.9,328.5 L665.8,327.2 L666.8,325.9 L667.8,325.1 L668.5,324.3 L669.2,323.2 L669.9,322.5 L670.7,321.9 L671.4,321.3 L672.2,320.0 L673.0,318.8 L673.9,317.9 L674.7,317.3 L675.5,316.4 L676.4,315.4 L677.2,314.3 L678.1,313.1 L679.0,312.1 L679.8,311.0 L680.7,310.0 L681.6,309.0 L682.4,308.1 L683.3,307.1 L684.1,306.4 L684.9,305.7 L685.7,304.7 L686.5,303.6 L687.3,302.5 L688.1,301.5 L688.8,300.6 L689.5,300.0 L690.4,299.1 L691.3,298.0 L692.1,296.7 L693.0,295.5 L693.8,294.5 L694.6,293.7 L695.4,292.9 L696.2,291.6 L697.0,290.5 L697.8,289.5 L698.5,288.5 L699.3,287.6 L700.0,286.7 L700.7,285.8 L701.4,285.0 L702.1,284.3 L702.8,283.7 L703.5,282.7 L704.2,281.8 L704.8,280.9 L705.5,279.9 L706.5,278.7 L707.4,277.9 L708.3,276.8 L709.2,275.4 L710.1,274.5 L710.9,273.7 L711.8,272.8 L712.6,271.7 L713.3,270.7 L714.1,269.9 L714.8,269.3 L715.6,268.6 L716.3,267.6 L717.0,266.7 L718.1,265.4 L719.1,264.3 L720.0,263.4 L721.0,262.5 L721.8,261.7 L722.7,260.9 L723.5,260.2 L724.3,259.6 L725.0,259.1 L726.2,257.8 L727.3,256.7 L728.2,255.9 L729.1,255.3 L730.0,254.9 L731.3,254.3 L732.5,253.9 L733.7,253.7 L735.3,253.9 L737.0,253.8 L738.0,254.4 L739.0,255.0 L740.1,255.6 L741.1,256.5 L742.0,257.5 L742.9,258.3 L743.7,259.3 L744.5,260.5 L745.1,261.7 L745.7,262.7 L746.2,263.7 L746.8,264.7 L747.5,265.8 L747.9,266.7 L748.3,267.7 L748.7,268.8 L749.2,270.2 L749.6,271.6 L750.1,272.8 L750.6,273.8 L751.1,275.1 L751.7,276.6 L752.2,277.7 L752.6,278.6 L753.1,279.6 L753.6,280.5 L754.1,281.5 L754.6,282.4 L755.1,283.7 L755.7,285.0 L756.3,286.3 L756.9,287.6 L757.5,288.8 L758.2,290.2 L758.7,291.2 L759.2,292.1 L759.7,293.1 L760.2,294.1 L760.7,295.4 L761.3,296.7 L761.8,297.9 L762.4,299.0 L763.0,300.1 L763.6,301.5 L764.1,302.8 L764.7,303.9 L765.3,305.0 L765.9,306.1 L766.4,307.1 L767.0,308.0 L767.5,308.8 L768.0,309.9 L768.8,311.6 L769.6,313.0 L770.4,314.0 L771.1,315.1 L771.9,316.1 L772.6,317.0 L773.4,317.9 L774.1,318.7 L774.8,319.4 L775.6,320.1 L776.3,320.9 L777.3,321.9 L778.3,322.9 L779.3,324.0 L780.3,324.8 L781.3,325.6 L782.3,326.3 L783.2,326.9 L784.1,327.6 L785.1,328.2 L786.1,328.9 L786.9,329.6 L787.8,330.3 L788.8,331.0 L790.0,332.0 L790.9,332.8 L791.9,333.4 L792.9,333.9 L794.0,334.4 L795.1,335.0 L796.3,335.6 L797.5,336.1 L798.7,336.7 L800.0,337.5 L801.1,338.1 L802.2,338.7 L803.3,339.2 L804.5,339.5 L805.7,339.8 L806.9,340.1 L808.1,340.3 L809.3,340.9 L810.5,341.5 L811.7,341.9 L812.9,342.2 L814.2,342.5 L815.5,342.6 L816.8,342.7 L818.1,343.0 L819.4,343.1 L820.7,343.1 L822.0,343.5 L823.3,343.8 L824.6,343.8 L825.9,343.9 L827.2,344.2 L828.5,344.7 L829.8,344.3 L831.1,344.6 L832.5,345.0 L833.8,345.1 L835.1,345.1 L836.3,345.1 L837.6,345.0 L838.8,345.0 L840.1,345.2 L841.3,345.5 L842.6,345.8 L843.7,345.5 L844.9,345.4 L846.1,345.7 L847.4,345.8 L848.6,345.9 L850.0,345.9 L851.1,346.0 L852.2,346.1 L853.3,346.1 L854.4,346.1 L855.5,346.1 L856.7,346.0 L857.9,345.8 L859.2,345.7 L860.7,346.2 L862.3,346.1 L864.0,346.1 L864.9,346.3 L865.8,346.4 L866.7,346.4 L867.5,346.4 L868.4,346.4 L869.2,346.4 L870.1,346.4 L871.0,346.4 L871.9,346.4 L872.9,346.7 L874.0,346.9 L875.1,346.9 L876.3,347.0 L877.6,346.7 L878.9,346.4 L880.4,346.6 L882.1,346.8 L883.8,346.8 L885.7,346.8 L887.8,347.1 L890.0,347.2 L890.8,347.2 L891.7,347.1 L892.7,347.1 L893.6,347.1 L894.7,347.1 L895.7,347.1 L896.8,347.1 L897.9,347.1 L899.1,347.0 L900.3,346.9 L901.5,346.8 L902.7,347.0 L904.0,347.2 L905.3,347.4 L906.6,347.3 L907.9,347.1 L909.3,347.1 L910.6,347.0 L912.0,347.1 L913.4,347.4 L914.8,347.1 L916.3,346.8 L917.7,347.0 L919.1,347.2 L920.6,347.2 L922.0,347.4 L923.5,347.5 L924.9,347.4 L926.4,347.2 L927.8,347.1 L929.3,347.0 L930.7,347.2 L932.2,347.3 L933.6,347.5 L935.0,347.6 L936.4,347.6 L937.8,347.7 L939.1,347.7 L940.5,347.4 L941.8,347.1 L943.1,347.2 L944.4,347.2 L945.7,347.3 L946.9,347.5 L948.1,347.6 L949.3,347.7 L950.4,347.6 L951.5,347.4 L952.6,347.4 L953.6,347.5 L954.6,347.6 L955.6,347.7 L956.5,347.5 L957.4,347.4 L958.2,347.3 L959.0,347.4 L959.7,347.5 L960.4,347.7 L961.0,347.5" fill="none" stroke="#151515" stroke-width="2.0" stroke-linejoin="round" stroke-linecap="round"/>
<path d="M617.8,379.0 L618.3,378.5 L619.0,377.9 L619.8,377.2 L620.7,376.6 L621.6,375.6 L622.6,373.9 L623.7,372.9 L624.7,372.2 L625.7,371.6 L626.6,371.1 L627.5,370.3 L628.4,369.3 L629.1,368.3 L629.9,367.1 L630.6,365.8 L631.3,365.0 L632.1,364.1 L632.9,363.1 L633.8,361.9 L634.8,360.5 L636.0,359.1 L636.6,358.4 L637.3,357.9 L638.0,357.3 L638.7,357.2 L639.5,356.1 L640.3,354.6 L641.2,353.0 L642.0,352.7 L642.9,352.2 L643.7,351.5 L644.6,350.6 L645.5,348.5 L646.4,346.9 L647.2,345.9 L648.1,345.6 L648.9,344.9 L649.8,343.9 L650.6,342.5 L651.3,341.2 L652.1,340.4 L652.8,339.7 L653.7,338.9 L654.5,338.1 L655.2,336.9 L655.9,336.0 L656.6,335.4 L657.3,334.8 L657.9,334.1 L658.5,333.5 L659.2,332.9 L659.9,331.7 L660.6,330.2 L661.3,329.2 L662.1,328.6 L663.0,327.4 L664.0,325.4 L665.0,324.6 L665.6,324.0 L666.3,323.6 L667.0,323.2 L667.8,322.1 L668.5,320.7 L669.3,319.3 L670.1,318.8 L671.0,318.2 L671.8,317.2 L672.7,316.1 L673.5,315.3 L674.4,314.4 L675.3,313.4 L676.2,312.1 L677.1,311.1 L678.0,310.2 L678.9,309.2 L679.7,308.1 L680.6,307.3 L681.5,306.7 L682.3,305.6 L683.2,304.4 L684.0,303.5 L684.8,302.8 L685.6,302.1 L686.3,301.4 L687.0,300.8 L687.7,300.0 L688.6,298.8 L689.5,297.7 L690.3,296.3 L691.1,295.1 L691.9,294.2 L692.6,293.5 L693.4,292.8 L694.1,292.1 L694.7,290.6 L695.4,288.8 L696.1,288.6 L696.8,288.3 L697.4,286.5 L698.1,285.3 L698.8,284.1 L699.5,283.4 L700.2,283.1 L700.9,282.7 L701.7,281.5 L702.5,279.9 L703.2,278.9 L704.0,277.8 L704.8,277.2 L705.5,276.7 L706.3,275.6 L707.1,274.0 L707.9,272.9 L708.7,272.2 L709.6,271.3 L710.4,270.1 L711.2,269.0 L712.0,268.6 L712.9,268.1 L713.7,266.7 L714.5,265.3 L715.3,264.2 L716.1,263.2 L716.9,262.3 L717.7,261.5 L718.5,260.8 L719.2,260.1 L720.0,259.4 L720.8,257.8 L721.7,256.7 L722.5,256.1 L723.3,255.2 L724.2,253.7 L725.0,252.2 L725.9,251.4 L726.7,250.7 L727.5,249.7 L728.3,248.7 L729.1,247.8 L729.9,246.9 L730.7,246.1 L731.5,245.5 L732.2,244.8 L732.9,243.9 L733.6,242.9 L734.3,242.0 L734.9,241.1 L735.5,240.3 L736.6,239.0 L737.5,238.0 L738.3,236.6 L739.1,235.3 L739.8,234.7 L740.4,234.2 L741.1,233.2 L741.8,231.7 L742.6,230.2 L743.5,229.9 L744.2,229.7 L744.9,229.1 L745.7,228.1 L746.5,227.1 L747.4,225.7 L748.3,224.3 L749.1,223.0 L750.0,221.8 L750.9,220.7 L751.7,220.2 L752.5,219.7 L753.2,218.9 L753.9,217.8 L754.5,216.8 L755.0,216.0 L756.9,214.0 L757.8,214.0 L758.7,213.1 L759.7,211.3 L760.6,210.1 L761.6,208.9 L762.5,207.4 L763.5,206.4 L764.4,205.2 L765.4,204.4 L766.3,203.7 L767.7,203.5 L769.1,202.4 L770.5,200.6 L771.9,200.2 L773.2,199.4 L774.4,198.3 L775.3,198.9 L776.2,200.7 L777.2,199.6 L778.3,198.5 L779.2,198.9 L780.2,199.6 L781.1,200.7 L781.9,202.1 L782.6,203.9 L783.2,205.5 L783.9,206.5 L784.6,208.3 L785.1,209.7 L785.6,211.1 L786.1,212.4 L786.4,213.6 L786.8,214.8 L787.1,216.2 L787.4,217.3 L787.8,218.8 L788.0,220.0 L788.2,221.4 L788.4,222.6 L788.7,223.9 L788.9,225.5 L789.1,226.8 L789.3,228.0 L789.5,229.1 L789.7,230.2 L790.0,231.6 L790.3,232.7 L790.5,233.6 L790.8,234.8 L791.2,236.3 L791.5,237.3 L791.8,238.7 L792.1,240.3 L792.4,241.8 L792.7,243.2 L793.1,244.4 L793.4,245.6 L793.7,246.9 L794.0,248.3 L794.4,249.5 L794.7,250.4 L795.0,251.8 L795.3,253.2 L795.6,254.6 L796.0,256.2 L796.2,257.2 L796.4,258.2 L796.6,259.2 L796.9,260.3 L797.1,261.5 L797.3,262.9 L797.6,264.4 L797.9,265.4 L798.2,267.0 L798.5,268.9 L798.8,270.0 L799.0,270.8 L799.3,271.9 L799.5,273.3 L799.8,274.7 L800.1,275.8 L800.4,276.8 L800.7,278.0 L801.0,279.2 L801.3,280.7 L801.6,282.2 L801.9,283.3 L802.3,284.3 L802.6,285.3 L802.9,286.4 L803.1,287.5 L803.4,288.5 L803.7,289.6 L804.1,291.1 L804.4,292.5 L804.8,293.9 L805.2,295.1 L805.5,296.5 L805.9,298.0 L806.2,299.2 L806.6,300.0 L806.9,300.8 L807.2,302.0 L807.5,303.1 L807.8,304.1 L808.3,305.8 L808.7,307.3 L809.1,308.6 L809.4,309.7 L809.8,310.7 L810.3,311.9 L810.8,313.0 L811.3,314.1 L811.8,315.1 L812.4,316.3 L813.0,317.6 L813.6,318.8 L814.2,320.0 L814.9,321.0 L815.6,322.1 L816.3,323.3 L817.0,324.4 L817.8,325.2 L818.6,326.0 L819.4,327.0 L820.2,328.0 L821.1,328.9 L822.0,329.8 L823.0,330.1 L823.9,330.7 L824.9,331.4 L825.9,332.1 L826.9,332.7 L828.0,333.4 L829.0,334.0 L830.1,334.7 L831.3,335.4 L832.4,336.1 L833.6,336.7 L834.7,337.3 L835.8,337.7 L836.9,337.9 L838.1,338.0 L839.2,338.2 L840.4,338.8 L841.6,339.3 L842.7,339.8 L844.0,340.2 L845.2,340.4 L846.5,340.6 L847.8,341.0 L849.1,341.5 L850.4,342.0 L851.7,342.5 L852.9,342.9 L854.1,343.2 L855.3,343.4 L856.6,343.4 L857.8,343.5 L859.1,343.7 L860.5,344.0 L861.8,344.1 L863.0,344.0 L864.3,344.2 L865.6,344.6 L867.0,344.8 L868.3,345.1 L869.6,345.2 L871.0,345.0 L872.3,345.2 L873.5,345.4 L874.9,345.7 L876.4,345.6 L877.9,345.8 L879.3,346.0 L880.7,345.9 L881.9,346.0 L883.0,346.0 L883.8,345.9 L885.0,344.3 L885.0,343.1 L884.9,344.5 L886.3,346.3 L887.0,346.3 L887.8,346.2 L888.7,346.2 L889.7,346.3 L890.8,346.3 L892.0,346.7 L893.3,346.9 L894.8,346.9 L896.3,347.0 L898.1,347.0 L900.0,347.0 L900.9,347.3 L901.8,347.6 L902.8,347.5 L903.9,347.4 L904.9,347.3 L906.0,347.2 L907.2,347.2 L908.4,347.2 L909.6,347.3 L910.8,347.5 L912.0,347.8 L913.3,348.1 L914.6,347.9 L915.8,347.7 L917.1,347.7 L918.5,347.8 L919.8,348.0 L921.1,348.2 L922.4,348.2 L923.7,348.1 L925.0,348.0 L926.3,348.3 L927.5,348.7 L928.8,348.5 L930.0,348.2 L931.2,348.2 L932.5,348.3 L933.9,348.4 L935.2,348.4 L936.6,348.6 L938.0,348.9 L939.5,348.9 L940.9,349.0 L942.4,349.3 L943.8,349.4 L945.3,349.5 L946.7,349.3 L948.1,349.2 L949.4,349.4 L950.8,349.5 L952.1,349.3 L953.3,349.3 L954.5,349.6 L955.7,349.8 L956.8,349.8 L957.8,349.8 L958.7,349.9 L959.6,349.9 L960.3,350.0 L961.0,349.8" fill="none" stroke="#ff1a1a" stroke-width="2.0" stroke-linejoin="round" stroke-linecap="round"/>
<path d="M616.0,379.0 L616.5,378.3 L617.1,377.5 L617.9,376.4 L618.7,375.9 L619.6,375.3 L620.6,374.2 L621.5,372.3 L622.4,371.2 L623.3,370.8 L624.0,370.5 L624.7,369.2 L625.3,367.9 L625.8,366.8 L626.3,365.9 L626.8,365.5 L627.3,364.8 L628.0,362.3 L628.8,360.5 L629.8,359.1 L630.3,358.6 L630.9,358.3 L631.5,358.0 L632.2,357.3 L632.8,356.4 L633.6,355.4 L634.3,354.5 L635.1,353.5 L635.8,352.0 L636.6,350.2 L637.4,348.7 L638.2,347.9 L639.0,347.0 L639.7,346.0 L640.5,345.0 L641.2,343.7 L641.9,342.5 L642.6,341.4 L643.2,340.9 L643.8,340.4 L644.6,339.6 L645.2,338.7 L645.8,337.8 L646.3,336.4 L646.8,335.1 L647.2,333.8 L647.7,332.5 L648.2,331.1 L648.7,330.3 L649.3,329.7 L649.9,328.4 L650.7,326.9 L651.5,325.7 L652.5,324.7 L653.1,324.3 L653.7,323.5 L654.3,322.2 L655.0,320.9 L655.7,320.2 L656.5,319.4 L657.2,318.4 L658.0,317.4 L658.8,316.3 L659.7,315.6 L660.5,315.8 L661.4,315.3 L662.2,314.1 L663.1,312.8 L664.0,310.7 L664.8,309.7 L665.7,309.5 L666.6,309.0 L667.4,307.7 L668.3,306.5 L669.1,305.4 L669.9,304.4 L670.7,303.9 L671.5,303.4 L672.2,302.2 L672.9,300.8 L673.6,299.4 L674.5,298.4 L675.3,297.5 L676.1,296.3 L676.9,295.1 L677.7,293.9 L678.4,293.4 L679.1,292.9 L679.8,291.9 L680.5,290.6 L681.2,289.4 L681.8,288.9 L682.5,288.3 L683.2,287.2 L683.9,286.0 L684.6,284.9 L685.3,283.9 L686.1,282.7 L686.9,281.5 L687.7,280.3 L688.5,279.1 L689.2,278.1 L689.9,277.2 L690.6,276.6 L691.3,276.2 L692.1,275.0 L692.9,273.4 L693.7,272.5 L694.5,271.7 L695.3,270.3 L696.1,269.0 L696.9,268.0 L697.7,267.1 L698.5,266.2 L699.3,265.2 L700.1,263.9 L700.9,262.8 L701.7,262.1 L702.5,261.4 L703.3,260.0 L704.0,258.6 L704.7,258.1 L705.4,257.6 L706.1,257.0 L706.8,256.1 L707.4,255.3 L708.0,254.7 L709.0,253.3 L709.9,251.2 L710.6,250.3 L711.3,250.2 L711.9,250.1 L712.4,248.8 L713.0,247.5 L713.6,246.1 L714.2,246.0 L714.8,245.8 L715.6,244.4 L716.4,242.8 L717.4,240.9 L718.5,239.3 L719.1,238.4 L719.7,237.5 L720.3,236.6 L721.0,235.8 L721.7,234.9 L722.4,234.7 L723.1,234.4 L723.9,233.7 L724.7,232.4 L725.5,231.0 L726.3,229.8 L727.1,228.6 L728.0,227.8 L728.8,227.5 L729.7,226.6 L730.5,225.2 L731.4,223.4 L732.2,221.7 L733.1,220.5 L733.9,219.9 L734.7,219.3 L735.6,218.8 L736.4,218.2 L737.1,216.2 L737.9,214.2 L738.7,213.3 L739.4,212.5 L740.1,211.7 L740.8,211.0 L741.4,210.3 L742.0,209.7 L743.0,208.7 L744.0,206.3 L744.9,206.5 L745.8,205.3 L746.7,203.5 L747.5,202.2 L748.3,200.9 L749.1,199.7 L749.8,198.4 L750.5,197.7 L751.2,197.1 L751.8,196.6 L752.4,195.6 L753.0,194.7 L753.5,193.8 L754.1,193.0 L754.5,192.3 L755.0,191.7 L757.0,190.3 L757.8,190.6 L758.7,190.1 L759.7,188.4 L760.6,186.1 L761.6,185.7 L762.6,185.4 L763.5,184.4 L764.6,184.6 L765.6,184.8 L766.5,183.9 L767.4,182.0 L768.4,182.2 L769.8,181.7 L771.2,181.0 L772.2,180.2 L773.2,179.3 L774.1,178.1 L775.2,177.6 L776.2,177.6 L776.9,177.1 L777.6,176.6 L778.6,176.9 L779.7,176.9 L780.6,175.1 L781.5,173.6 L782.3,174.5 L783.2,176.5 L783.9,177.3 L784.6,177.7 L785.3,178.4 L786.0,179.6 L786.8,180.0 L787.5,180.9 L788.2,182.6 L788.9,184.4 L789.6,185.7 L790.3,186.8 L791.1,188.5 L791.7,190.2 L792.2,191.5 L792.6,192.8 L793.1,193.5 L793.4,194.3 L793.8,195.5 L794.2,196.8 L794.6,198.4 L795.0,199.9 L795.3,200.8 L795.6,201.8 L795.9,202.8 L796.2,203.9 L796.5,205.1 L796.8,206.4 L797.1,208.1 L797.4,210.0 L797.7,211.7 L798.0,213.3 L798.4,214.4 L798.7,215.3 L799.0,216.2 L799.3,217.2 L799.7,218.1 L800.0,219.8 L800.3,221.7 L800.6,223.5 L801.0,224.7 L801.3,225.9 L801.6,227.0 L801.9,227.3 L802.3,227.9 L802.6,230.5 L803.0,232.0 L803.3,232.7 L803.7,233.6 L804.1,234.6 L804.5,235.6 L804.8,236.5 L805.2,238.5 L805.5,240.6 L805.9,240.8 L806.1,242.7 L806.4,244.6 L806.7,246.1 L807.0,247.6 L807.3,248.2 L807.6,248.7 L808.0,249.7 L808.3,251.7 L808.7,253.8 L809.1,255.0 L809.5,256.3 L810.0,257.7 L810.3,258.6 L810.7,259.6 L811.0,260.5 L811.4,261.3 L811.8,262.0 L812.2,263.7 L812.6,265.5 L813.0,266.8 L813.4,268.0 L813.8,269.0 L814.2,270.0 L814.7,271.8 L815.2,273.5 L815.6,274.7 L816.1,275.7 L816.6,276.6 L817.1,278.0 L817.6,279.7 L818.0,280.9 L818.5,282.1 L819.0,283.1 L819.6,284.0 L820.1,285.1 L820.7,286.3 L821.2,286.9 L821.7,287.2 L822.2,288.3 L822.6,289.5 L823.2,291.2 L823.6,292.3 L824.2,293.5 L825.1,295.0 L825.7,295.5 L826.3,296.0 L827.1,297.1 L827.9,298.2 L828.8,298.7 L829.6,299.2 L830.4,300.3 L831.2,301.4 L832.0,302.4 L832.6,303.4 L833.4,304.5 L833.8,305.5 L834.2,306.3 L834.7,307.3 L835.4,308.5 L836.6,311.1 L837.3,310.6 L838.2,310.3 L839.1,310.9 L840.2,312.2 L841.3,313.1 L842.4,313.7 L843.5,314.4 L844.7,315.1 L845.9,315.9 L847.0,316.7 L848.1,317.5 L849.1,318.2 L850.0,318.7 L851.4,319.5 L852.6,320.2 L853.7,320.7 L854.8,321.3 L855.9,321.6 L857.0,321.8 L858.1,322.1 L859.4,322.8 L860.5,323.4 L861.6,324.0 L862.8,324.4 L864.0,324.8 L865.2,325.0 L866.4,325.3 L867.6,325.6 L868.8,326.0 L870.0,326.4 L871.2,326.8 L872.5,327.1 L873.7,327.2 L874.9,327.4 L876.1,327.5 L877.3,327.6 L878.6,327.8 L879.9,328.0 L881.4,328.6 L882.9,329.2 L883.9,329.3 L885.0,329.2 L886.1,329.1 L887.2,329.4 L888.4,329.6 L889.5,329.9 L890.7,330.1 L892.0,330.2 L893.2,330.3 L894.5,330.3 L895.9,330.5 L897.2,330.8 L898.6,331.4 L900.0,331.2 L901.1,331.1 L902.2,331.2 L903.3,331.7 L904.5,331.9 L905.7,331.8 L906.9,331.7 L908.1,331.7 L909.3,331.9 L910.6,332.3 L911.8,332.8 L913.1,332.7 L914.3,332.6 L915.6,332.9 L916.8,333.2 L918.1,333.3 L919.3,333.4 L920.5,333.5 L921.7,333.5 L922.9,333.6 L924.2,333.8 L925.5,334.0 L926.8,334.1 L928.1,334.1 L929.4,334.2 L930.7,334.2 L932.0,334.3 L933.2,334.4 L934.5,334.2 L935.8,334.1 L937.0,334.3 L938.2,334.5 L939.4,334.6 L940.6,334.7 L941.8,334.8 L943.0,335.0 L944.1,335.1 L945.5,335.3 L946.9,335.6 L948.3,335.9 L949.7,336.0 L951.1,336.1 L952.5,336.2 L953.9,336.5 L955.2,336.7 L956.4,337.0 L957.5,337.2 L958.6,337.2 L959.5,337.1 L960.3,337.2 L961.0,337.3" fill="none" stroke="#ff22ff" stroke-width="2.0" stroke-linejoin="round" stroke-linecap="round"/>
<path d="M615.4,379.0 L615.8,378.1 L616.4,377.0 L617.1,375.7 L617.8,375.2 L618.6,374.6 L619.5,373.5 L620.3,371.7 L621.2,371.1 L622.0,370.6 L622.7,369.2 L623.4,367.9 L624.1,366.9 L624.7,366.2 L625.4,365.4 L626.2,364.2 L627.0,362.9 L627.9,363.1 L628.9,361.9 L630.0,359.6 L630.6,359.0 L631.2,358.7 L631.9,357.9 L632.6,356.9 L633.3,355.8 L634.1,354.4 L634.8,353.0 L635.6,352.0 L636.4,350.9 L637.3,349.8 L638.1,349.9 L638.9,350.0 L639.7,349.0 L640.5,347.8 L641.3,346.4 L642.1,345.0 L642.9,344.1 L643.7,343.1 L644.4,342.1 L645.1,341.0 L645.8,339.5 L646.7,338.7 L647.5,338.6 L648.3,337.1 L649.0,335.3 L649.7,334.2 L650.4,333.4 L651.1,332.5 L651.8,332.1 L652.5,331.8 L653.2,331.3 L653.9,329.2 L654.8,328.7 L655.6,327.8 L656.6,326.3 L657.6,325.0 L658.2,324.2 L658.9,323.4 L659.6,322.6 L660.3,321.7 L661.0,320.7 L661.8,320.0 L662.6,319.0 L663.4,317.8 L664.2,317.2 L665.0,316.6 L665.9,315.1 L666.7,312.8 L667.5,312.6 L668.4,312.2 L669.2,310.4 L670.1,308.5 L670.9,308.7 L671.8,308.7 L672.6,306.9 L673.4,305.4 L674.2,305.4 L675.0,304.2 L675.8,302.2 L676.6,301.7 L677.3,301.2 L678.0,299.9 L678.9,298.2 L679.7,296.8 L680.5,296.4 L681.3,296.5 L682.1,295.8 L682.9,294.2 L683.7,292.6 L684.4,291.5 L685.2,290.7 L685.9,289.2 L686.6,288.2 L687.4,287.5 L688.1,287.5 L688.8,287.3 L689.6,285.7 L690.3,284.1 L691.0,283.9 L691.8,283.9 L692.5,282.7 L693.2,281.6 L694.0,280.4 L694.8,279.2 L695.5,278.7 L696.3,278.1 L697.0,277.1 L697.7,275.7 L698.5,274.4 L699.2,273.2 L700.0,272.0 L700.7,271.8 L701.4,271.6 L702.2,270.5 L702.9,269.3 L703.7,268.5 L704.4,267.7 L705.2,266.3 L706.0,264.7 L706.8,263.2 L707.6,262.6 L708.4,261.7 L709.2,260.3 L710.0,259.3 L710.8,258.3 L711.6,257.4 L712.4,256.4 L713.2,255.9 L714.0,255.4 L714.8,254.6 L715.6,253.7 L716.4,252.8 L717.2,251.8 L718.1,250.9 L718.9,250.3 L719.7,249.3 L720.6,248.4 L721.5,248.4 L722.4,247.6 L723.3,246.6 L724.2,245.6 L725.1,244.6 L726.0,243.3 L727.0,241.9 L728.0,241.1 L729.0,240.4 L729.7,238.9 L730.5,237.3 L731.2,236.5 L732.0,235.9 L732.9,235.6 L733.7,235.3 L734.6,234.4 L735.5,232.3 L736.4,230.7 L737.3,230.9 L738.2,230.2 L739.1,228.2 L740.0,226.3 L741.0,225.5 L741.9,224.8 L742.8,224.2 L743.7,223.6 L744.6,222.9 L745.5,221.9 L746.4,220.7 L747.2,218.9 L748.1,216.9 L748.9,216.8 L749.7,216.1 L750.4,215.0 L751.1,214.1 L751.8,213.3 L752.5,212.6 L753.1,211.8 L753.7,211.0 L754.2,210.2 L754.7,209.5 L757.2,206.8 L758.0,206.6 L758.1,206.6 L758.5,206.4 L759.4,205.8 L760.3,204.8 L761.2,204.0 L762.1,203.2 L763.3,202.7 L764.4,202.5 L765.6,201.2 L766.5,199.7 L767.4,198.3 L768.3,197.0 L769.1,195.4 L770.5,195.3 L771.9,195.7 L772.7,195.0 L773.4,193.6 L774.2,192.1 L774.8,190.9 L775.5,189.2 L776.2,187.9 L777.2,187.0 L778.5,185.9 L779.7,184.5 L780.7,184.0 L781.6,183.8 L782.5,183.1 L783.2,182.0 L783.9,180.8 L784.6,180.5 L785.3,179.7 L786.2,177.0 L787.2,176.9 L788.2,176.3 L789.3,174.8 L790.6,173.7 L791.7,172.5 L792.7,171.8 L793.5,171.6 L794.5,171.0 L795.2,169.2 L796.0,167.1 L796.7,166.8 L797.5,166.1 L798.2,165.4 L799.6,165.0 L800.9,164.8 L802.0,163.7 L803.2,162.0 L804.1,161.3 L804.9,160.2 L805.9,159.0 L806.9,157.6 L808.1,156.5 L809.1,156.2 L810.5,157.3 L811.8,158.7 L812.8,158.6 L813.8,157.3 L814.3,156.2 L814.9,155.6 L815.4,153.5 L815.9,152.1 L816.5,152.3 L817.1,153.5 L817.7,153.6 L818.5,154.1 L819.1,155.3 L819.7,157.0 L820.3,158.9 L820.9,159.8 L821.5,158.8 L821.9,156.8 L822.4,155.6 L823.1,156.6 L823.8,158.5 L824.4,159.6 L825.0,160.6 L825.6,161.7 L826.1,162.8 L826.7,164.2 L827.2,165.8 L827.6,167.4 L827.7,167.6 L828.2,170.1 L828.4,170.6 L828.6,171.1 L828.8,172.1 L829.1,173.3 L829.4,174.5 L829.7,175.5 L830.0,176.8 L830.3,178.7 L830.7,180.2 L831.0,181.0 L831.4,182.0 L831.8,184.3 L832.1,185.5 L832.5,185.2 L832.8,187.8 L833.2,189.4 L833.5,189.9 L833.8,190.4 L834.2,191.5 L834.5,192.6 L834.8,193.8 L835.2,195.1 L835.5,196.7 L835.9,198.5 L836.2,199.9 L836.6,201.3 L836.9,202.5 L837.3,203.6 L837.6,204.3 L838.0,204.8 L838.3,205.6 L838.7,208.0 L839.0,209.4 L839.4,210.2 L839.8,211.4 L840.1,212.5 L840.5,213.6 L840.9,214.6 L841.3,215.6 L841.7,216.6 L842.0,217.6 L842.4,219.4 L842.8,221.1 L843.2,222.1 L843.6,222.7 L843.9,223.5 L844.3,224.6 L844.7,225.8 L845.0,227.0 L845.4,228.2 L845.7,229.3 L846.2,230.5 L846.6,231.9 L847.0,233.7 L847.4,234.8 L847.8,235.5 L848.2,236.8 L848.5,239.2 L848.9,240.9 L849.3,241.8 L849.7,242.4 L850.1,242.7 L850.5,243.8 L851.0,245.7 L851.4,247.5 L851.9,248.0 L852.3,248.6 L852.8,249.3 L853.3,249.8 L853.8,250.8 L854.3,252.2 L854.8,253.6 L855.3,255.1 L855.9,256.6 L856.5,258.1 L857.1,259.7 L857.7,259.9 L858.4,261.5 L859.0,263.5 L859.7,264.0 L860.4,264.5 L861.1,265.8 L861.7,267.1 L862.3,268.4 L862.8,269.4 L863.3,270.4 L864.2,271.8 L864.9,272.4 L865.4,272.8 L866.0,273.7 L866.6,274.9 L867.5,276.3 L868.4,276.7 L869.3,277.4 L870.3,278.6 L871.2,280.8 L872.1,281.3 L873.1,281.4 L874.1,282.3 L875.1,283.4 L876.1,284.4 L877.1,285.1 L878.1,285.9 L879.2,287.9 L880.2,289.4 L881.5,290.6 L882.9,290.7 L884.3,290.6 L885.4,290.9 L886.4,291.7 L887.1,292.5 L888.2,294.5 L889.2,295.3 L890.3,295.7 L891.6,295.8 L892.8,295.8 L893.9,295.9 L895.1,296.4 L896.3,296.7 L897.4,296.9 L898.6,297.1 L899.7,298.1 L900.8,299.1 L902.0,300.0 L903.3,300.8 L904.5,301.4 L905.9,302.1 L907.2,302.8 L908.6,302.9 L909.9,302.8 L911.4,302.8 L912.9,303.1 L914.2,304.3 L915.5,305.3 L916.5,305.8 L917.3,305.8 L919.3,306.2 L920.1,306.5 L921.1,307.5 L922.2,307.7 L923.3,307.2 L924.6,308.1 L925.8,309.2 L927.2,308.9 L928.5,308.6 L929.8,308.6 L931.1,308.7 L932.3,308.9 L933.5,309.2 L934.8,310.0 L936.1,310.2 L937.4,310.2 L938.6,310.4 L939.8,310.9 L941.0,311.3 L942.3,311.2 L943.5,311.1 L944.9,311.3 L946.2,312.0 L947.4,312.5 L948.7,312.5 L950.1,312.3 L951.5,312.0 L953.0,311.7 L954.4,311.9 L955.8,312.2 L957.1,312.3 L958.3,312.3 L959.4,312.0 L960.3,311.8 L961.0,312.8" fill="none" stroke="#1a1aff" stroke-width="2.0" stroke-linejoin="round" stroke-linecap="round"/>
<path d="M616.5,312.8 L962.5,312.8" stroke="#1a1aff" stroke-width="2.7" stroke-dasharray="9.4,10.45" fill="none"/>
<path d="M616.5,337 L962.5,337" stroke="#ff22ff" stroke-width="2.7" stroke-dasharray="9.4,10.45" fill="none"/>
<path d="M616.5,349.4 L962.5,349.4" stroke="#111" stroke-width="2.7" stroke-dasharray="9.4,10.45" fill="none"/>
<rect x="910.8" y="47.3" width="67.8" height="89.5" fill="none" stroke="#8a8a8a" stroke-width="1.7"/>
<text x="917.7" y="68.7" font-family="Liberation Sans, sans-serif" font-size="14" fill="#1a1a1a" stroke="#1a1a1a" stroke-width="0.3">Control</text>
<text x="917.8" y="86.2" font-family="Liberation Sans, sans-serif" font-size="14" fill="#ff2020" stroke="#ff2020" stroke-width="0.3">E<tspan font-size="8.3" stroke-width="0" dy="5.5">13</tspan><tspan dy="-5.5">K</tspan><tspan font-size="8.3" stroke-width="0" dy="5.5">20</tspan><tspan dy="-5.5">A</tspan><tspan font-size="8.3" stroke-width="0" dy="5.5">15</tspan></text>
<text x="917.8" y="104.1" font-family="Liberation Sans, sans-serif" font-size="14" fill="#ff22ff" stroke="#ff22ff" stroke-width="0.3">E<tspan font-size="8.3" stroke-width="0" dy="5.5">16</tspan><tspan dy="-5.5">K</tspan><tspan font-size="8.3" stroke-width="0" dy="5.5">17</tspan><tspan dy="-5.5">A</tspan><tspan font-size="8.3" stroke-width="0" dy="5.5">13</tspan></text>
<text x="917.8" y="121.9" font-family="Liberation Sans, sans-serif" font-size="14" fill="#2020ff" stroke="#2020ff" stroke-width="0.3">E<tspan font-size="8.3" stroke-width="0" dy="5.5">28</tspan><tspan dy="-5.5">K</tspan><tspan font-size="8.3" stroke-width="0" dy="5.5">9</tspan><tspan dy="-5.5">A</tspan><tspan font-size="8.3" stroke-width="0" dy="5.5">7</tspan></text>
</svg>
</body></html>
